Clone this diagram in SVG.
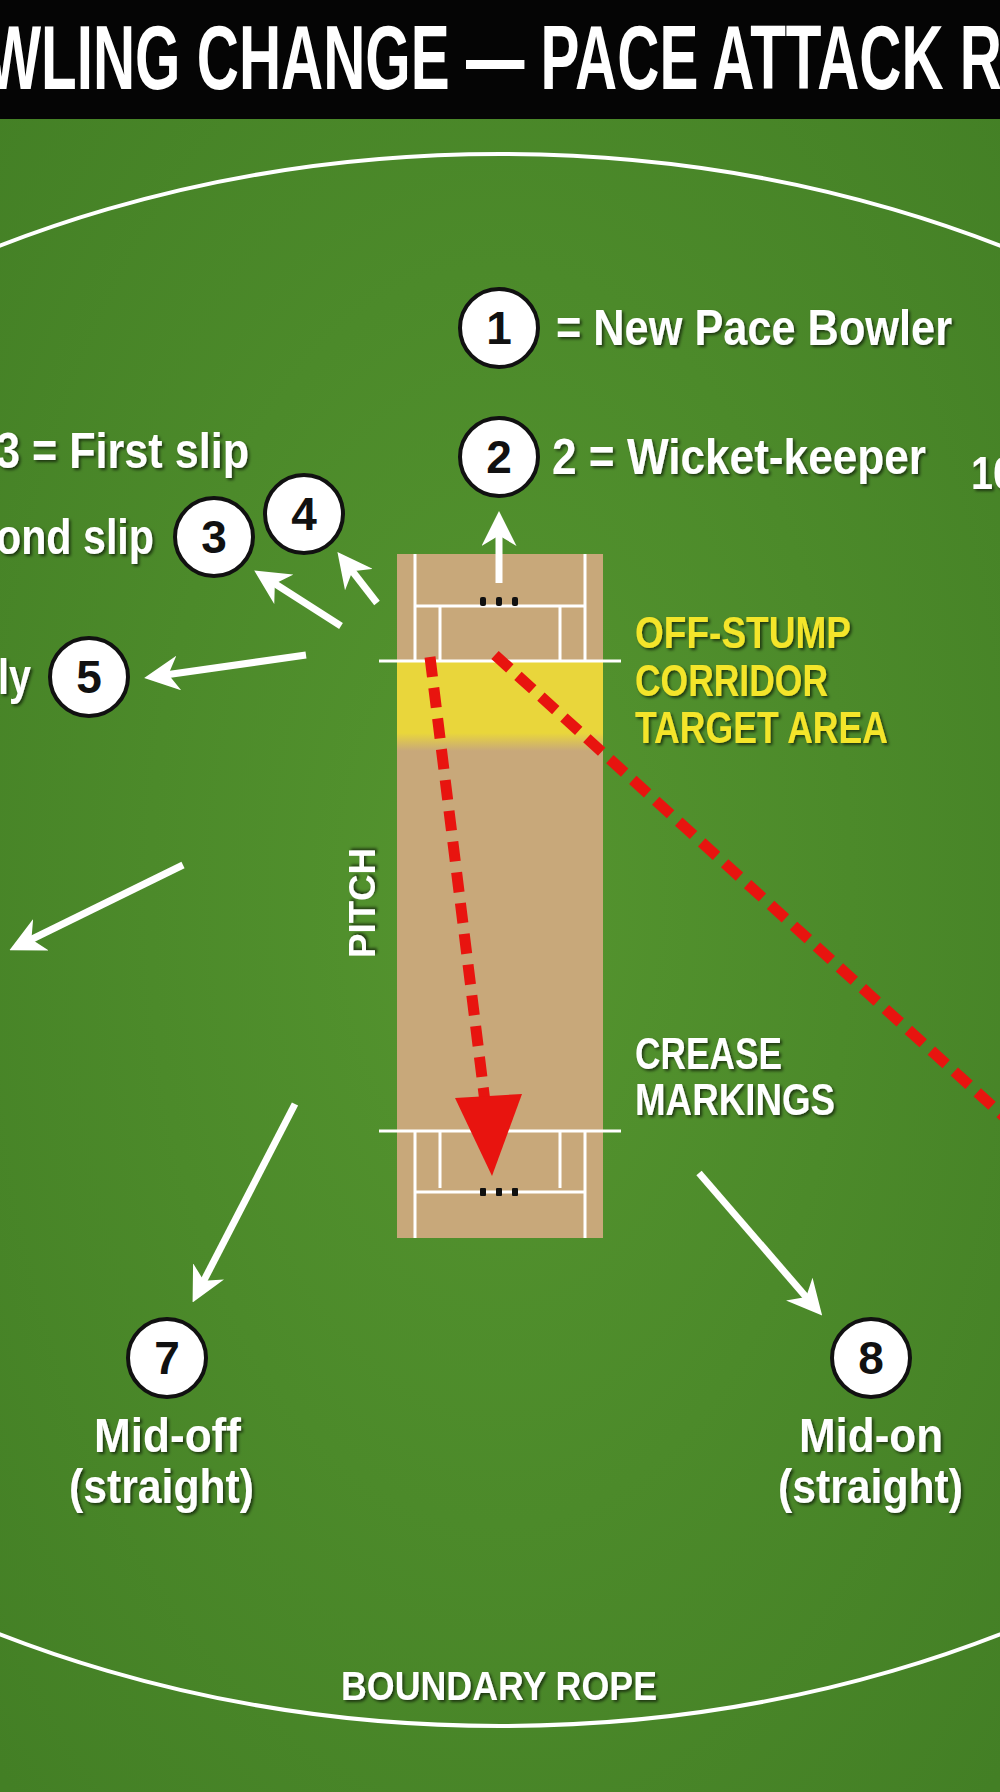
<svg xmlns="http://www.w3.org/2000/svg" width="1000" height="1792" viewBox="0 0 1000 1792">
<defs>
<style>
.t{font-family:"Liberation Sans Narrow","Liberation Sans",sans-serif;font-weight:bold;fill:#fff;filter:url(#sh)}
.y{fill:#f4e52c}
.n{font-family:"Liberation Sans",sans-serif;font-weight:bold;font-size:46px;fill:#111;text-anchor:middle}
.c{fill:#fff;stroke:#111;stroke-width:4}
.a{stroke:#fff;stroke-width:7;fill:none;marker-end:url(#wa)}
.w{stroke:#fff;stroke-width:3;fill:none}
.r{stroke:#e8140f;stroke-width:11;fill:none;stroke-dasharray:20 11}
</style>
<radialGradient id="g" cx="0.5" cy="0.5" r="0.7"><stop offset="0" stop-color="#55952f"/><stop offset="1" stop-color="#437f25"/></radialGradient>
<linearGradient id="yb" x1="0" y1="0" x2="0" y2="1"><stop offset="0.8" stop-color="#e9d63b"/><stop offset="1" stop-color="#c8a87a"/></linearGradient>
<filter id="sh" x="-10%" y="-20%" width="120%" height="140%"><feDropShadow dx="2" dy="2" stdDeviation="1.5" flood-color="#000" flood-opacity="0.6"/></filter>
<marker id="wa" viewBox="0 0 10 10" refX="6" refY="5" markerWidth="5" markerHeight="5" orient="auto" markerUnits="strokeWidth"><path d="M0,0 L10,5 L0,10 L3,5 Z" fill="#fff"/></marker>
</defs>
<rect width="1000" height="1792" fill="url(#g)"/>
<rect width="1000" height="119" fill="#050505"/>
<text class="t" x="-14" y="89" font-size="90" textLength="1016" lengthAdjust="spacingAndGlyphs" style="filter:none">WLING CHANGE — PACE ATTACK R</text>
<ellipse cx="500" cy="940" rx="1066" ry="786" fill="none" stroke="#fff" stroke-width="4"/>
<g id="pitch">
<rect x="397" y="554" width="206" height="684" fill="#c8a87a"/>
<rect x="397" y="661" width="206" height="90" fill="url(#yb)"/>
<path class="w" d="M379,661 H621 M415,554 V661 M585,554 V661 M440,606 V661 M560,606 V661 M415,606 H585"/>
<path class="w" d="M379,1131 H621 M415,1131 V1238 M585,1131 V1238 M440,1131 V1188 M560,1131 V1188 M415,1192 H585"/>
<g fill="#111"><rect x="480" y="597" width="6" height="9" rx="2"/><rect x="496" y="597" width="6" height="9" rx="2"/><rect x="512" y="597" width="6" height="9" rx="2"/>
<rect x="480" y="1188" width="6" height="8" rx="1"/><rect x="496" y="1188" width="6" height="8" rx="1"/><rect x="512" y="1188" width="6" height="8" rx="1"/></g>
<text class="t" font-size="36" textLength="110" lengthAdjust="spacingAndGlyphs" transform="translate(375,958) rotate(-90)">PITCH</text>
</g>
<g id="connectors">
<line class="r" x1="430" y1="657" x2="486" y2="1110"/>
<path d="M455,1098 L522,1094 L492,1176 Z" fill="#e8140f"/>
<line class="r" x1="495" y1="655" x2="1010" y2="1122"/>
<line class="a" x1="499" y1="583" x2="499" y2="525"/>
<line class="a" x1="341" y1="626" x2="266" y2="578"/>
<line class="a" x1="377" y1="603" x2="346" y2="563"/>
<line class="a" x1="306" y1="655" x2="158" y2="676"/>
<line class="a" x1="183" y1="865" x2="22" y2="944"/>
<line class="a" x1="295" y1="1104" x2="199" y2="1290"/>
<line class="a" x1="699" y1="1173" x2="813" y2="1305"/>
</g>
<g id="n1"><circle class="c" cx="499" cy="328" r="39"/><text class="n" x="499" y="344">1</text>
<text class="t" x="556" y="345" font-size="50" textLength="396" lengthAdjust="spacingAndGlyphs">= New Pace Bowler</text></g>
<g id="n2"><circle class="c" cx="499" cy="457" r="39"/><text class="n" x="499" y="473">2</text>
<text class="t" x="552" y="474" font-size="50" textLength="374" lengthAdjust="spacingAndGlyphs">2 = Wicket-keeper</text></g>
<g id="n10"><text class="t" x="971" y="489" font-size="46" textLength="44" lengthAdjust="spacingAndGlyphs">10</text></g>
<g id="n3"><circle class="c" cx="214" cy="537" r="39"/><text class="n" x="214" y="553">3</text>
<text class="t" x="-4" y="468" font-size="50" textLength="253" lengthAdjust="spacingAndGlyphs">3 = First slip</text>
<text class="t" x="-4" y="554" font-size="50" textLength="158" lengthAdjust="spacingAndGlyphs">ond slip</text></g>
<g id="n4"><circle class="c" cx="304" cy="514" r="39"/><text class="n" x="304" y="530">4</text></g>
<g id="n5"><circle class="c" cx="89" cy="677" r="39"/><text class="n" x="89" y="693">5</text>
<text class="t" x="-2" y="694" font-size="50" textLength="33" lengthAdjust="spacingAndGlyphs">ly</text></g>
<g id="n7"><circle class="c" cx="167" cy="1358" r="39"/><text class="n" x="167" y="1374">7</text>
<text class="t" x="94" y="1452" font-size="48" textLength="147" lengthAdjust="spacingAndGlyphs">Mid-off</text>
<text class="t" x="69" y="1503" font-size="48" textLength="185" lengthAdjust="spacingAndGlyphs">(straight)</text></g>
<g id="n8"><circle class="c" cx="871" cy="1358" r="39"/><text class="n" x="871" y="1374">8</text>
<text class="t" x="799" y="1452" font-size="48" textLength="144" lengthAdjust="spacingAndGlyphs">Mid-on</text>
<text class="t" x="778" y="1503" font-size="48" textLength="185" lengthAdjust="spacingAndGlyphs">(straight)</text></g>
<g id="target"><text class="t y" x="635" y="648" font-size="44" textLength="216" lengthAdjust="spacingAndGlyphs">OFF-STUMP</text>
<text class="t y" x="635" y="696" font-size="44" textLength="193" lengthAdjust="spacingAndGlyphs">CORRIDOR</text>
<text class="t y" x="635" y="743" font-size="44" textLength="253" lengthAdjust="spacingAndGlyphs">TARGET AREA</text></g>
<g id="crease"><text class="t" x="635" y="1069" font-size="44" textLength="147" lengthAdjust="spacingAndGlyphs">CREASE</text>
<text class="t" x="635" y="1115" font-size="44" textLength="200" lengthAdjust="spacingAndGlyphs">MARKINGS</text></g>
<text class="t" x="341" y="1700" font-size="40" textLength="316" lengthAdjust="spacingAndGlyphs">BOUNDARY ROPE</text>
</svg>
